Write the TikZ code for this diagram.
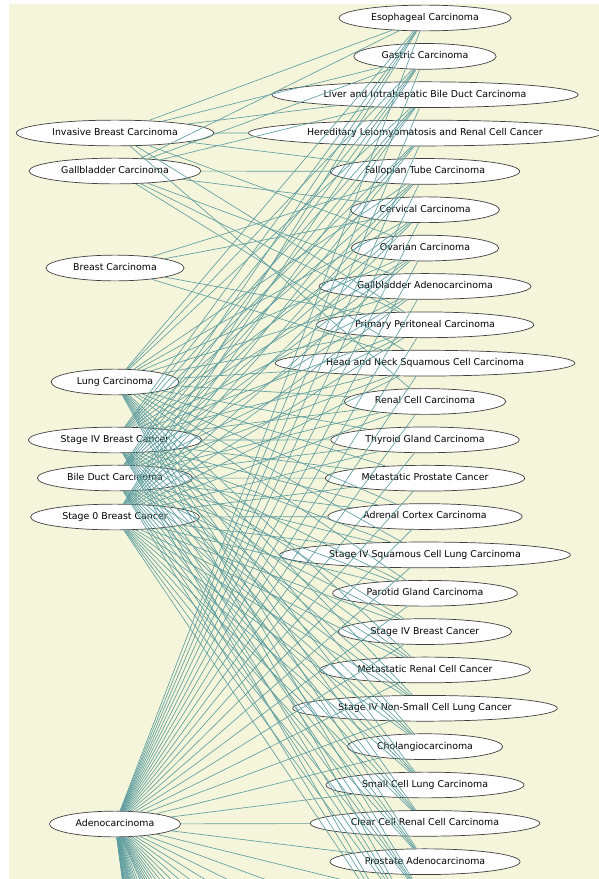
\documentclass[tikz,border=0pt]{standalone}
\usepackage{fontspec}
\setmainfont{DejaVu Sans}
\usetikzlibrary{shapes.geometric}
\definecolor{graphbg}{RGB}{245,245,220}
\definecolor{edgeteal}{RGB}{95,158,160}

\begin{document}
\begin{tikzpicture}[
    x=1pt, y=-1pt,
    font=\fontsize{9.4}{11}\selectfont,
    node_common/.style={ellipse, draw=black!75, fill=white, line width=0.7pt, inner xsep=7pt, inner ysep=4.5pt, text height=7pt, text depth=2.2pt},
    link/.style={draw=edgeteal, line width=0.65pt}
]
\useasboundingbox (0,0) rectangle (599,879);
\fill[graphbg] (9,4) rectangle (599,879);

% Left column
\node[node_common] (invbreast) at (115,133) {Invasive Breast Carcinoma};
\node[node_common] (gallbl) at (115,171) {Gallbladder Carcinoma};
\node[node_common] (breast) at (115,268) {Breast Carcinoma};
\node[node_common] (lung) at (115,382) {Lung Carcinoma};
\node[node_common] (stfourbr) at (115,440) {Stage IV Breast Cancer};
\node[node_common] (bileduct) at (115,478) {Bile Duct Carcinoma};
\node[node_common] (stzerobr) at (115,517) {Stage 0 Breast Cancer};
\node[node_common] (adeno) at (115,824) {Adenocarcinoma};

% Right column
\foreach \i/\name in {1/Esophageal Carcinoma, 2/Gastric Carcinoma,
    3/Liver and Intrahepatic Bile Duct Carcinoma,
    4/Hereditary Leiomyomatosis and Renal Cell Cancer,
    5/Fallopian Tube Carcinoma, 6/Cervical Carcinoma, 7/Ovarian Carcinoma,
    8/Gallbladder Adenocarcinoma, 9/Primary Peritoneal Carcinoma,
    10/Head and Neck Squamous Cell Carcinoma, 11/Renal Cell Carcinoma,
    12/Thyroid Gland Carcinoma, 13/Metastatic Prostate Cancer,
    14/Adrenal Cortex Carcinoma, 15/Stage IV Squamous Cell Lung Carcinoma,
    16/Parotid Gland Carcinoma, 17/Stage IV Breast Cancer,
    18/Metastatic Renal Cell Cancer, 19/Stage IV Non-Small Cell Lung Cancer,
    20/Cholangiocarcinoma, 21/Small Cell Lung Carcinoma,
    22/Clear Cell Renal Cell Carcinoma, 23/Prostate Adenocarcinoma}
  \node[node_common] (r\i) at (425,{18+38.35*(\i-1)}) {\name};

% ends below the visible part
\foreach \i in {24,...,84}
  \coordinate (r\i) at (425,{18+38.35*(\i-1)});

% Edges
\begin{scope}
\clip (0,0) rectangle (599,879);
\foreach \j in {1,2,3,4,5,7,9,11} \draw[link] (invbreast) -- (r\j);
\foreach \j in {1,2,3,5,6,8,9,10} \draw[link] (gallbl) -- (r\j);
\foreach \j in {5,6,9,10} \draw[link] (breast) -- (r\j);
\foreach \j in {1,2,3,5,6,7,8,9,10,11,12,13,14,15,16,18,19,20,21,22,23,24,25} \draw[link] (lung) -- (r\j);
\foreach \j in {1,...,26} \draw[link] (stfourbr) -- (r\j);
\foreach \j in {1,...,26} \draw[link] (bileduct) -- (r\j);
\foreach \j in {1,...,26} \draw[link] (stzerobr) -- (r\j);
\foreach \j in {1,...,40} \draw[link] (adeno) -- (r\j);
\foreach \j in {42,44,...,60} \draw[link] (adeno) -- (r\j);
\foreach \j in {63,66,...,84} \draw[link] (adeno) -- (r\j);
\end{scope}

\end{tikzpicture}
\end{document}
